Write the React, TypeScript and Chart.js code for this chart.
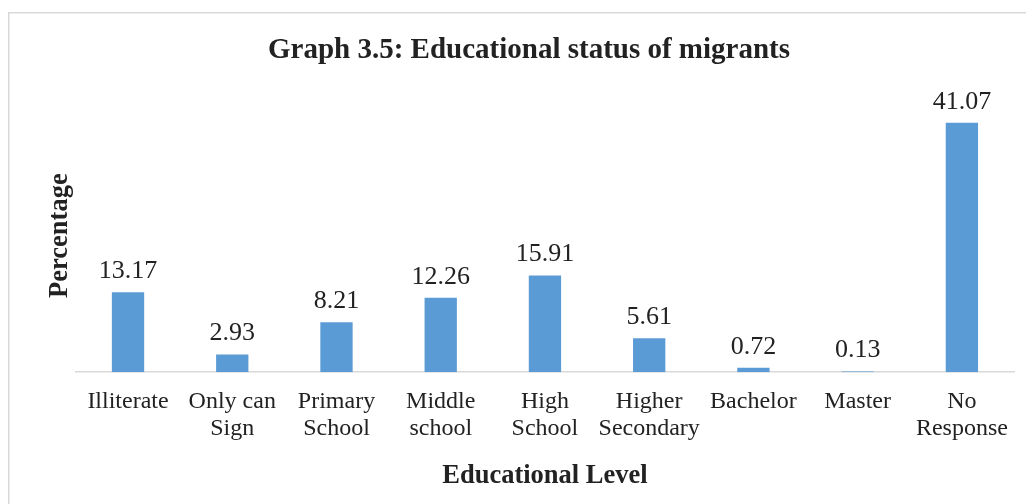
import React, { useEffect, useRef } from "react";
import { Chart, registerables } from "chart.js";

Chart.register(...registerables);

const categories: string[][] = [
  ["Illiterate"],
  ["Only can", "Sign"],
  ["Primary", "School"],
  ["Middle", "school"],
  ["High", "School"],
  ["Higher", "Secondary"],
  ["Bachelor"],
  ["Master"],
  ["No", "Response"],
];
const values: number[] = [13.17, 2.93, 8.21, 12.26, 15.91, 5.61, 0.72, 0.13, 41.07];
const valueLabels: string[] = ["13.17", "2.93", "8.21", "12.26", "15.91", "5.61", "0.72", "0.13", "41.07"];

const FONT = "'Liberation Serif', 'Times New Roman', serif";
const TEXT = "#222222";

const extrasPlugin = {
  id: "extras",
  afterDatasetsDraw(chart: any) {
    const ctx = chart.ctx;
    const meta = chart.getDatasetMeta(0);
    ctx.save();
    ctx.fillStyle = TEXT;
    ctx.font = `26px ${FONT}`;
    ctx.textAlign = "center";
    ctx.textBaseline = "bottom";
    meta.data.forEach((bar: any, i: number) => {
      ctx.fillText(valueLabels[i], bar.x, bar.y - 8);
    });
    ctx.restore();
  },
  beforeDraw(chart: any) {
    const ctx = chart.ctx;
    ctx.save();
    ctx.strokeStyle = "#d9d9d9";
    ctx.lineWidth = 1.5;
    ctx.beginPath();
    ctx.moveTo(0.75, chart.height);
    ctx.lineTo(0.75, 4.75);
    ctx.lineTo(chart.width, 4.75);
    ctx.stroke();
    ctx.restore();
  },
};

export default function App() {
  const ref = useRef<HTMLCanvasElement | null>(null);
  useEffect(() => {
    if (!ref.current) return;
    const chart = new Chart(ref.current, {
      type: "bar",
      data: {
        labels: categories,
        datasets: [
          {
            data: values,
            backgroundColor: "#5B9BD5",
            borderWidth: 0,
            barPercentage: 0.31,
            categoryPercentage: 1,
          },
        ],
      },
      options: {
        animation: false,
        responsive: false,
        maintainAspectRatio: false,
        layout: { padding: { left: 36, right: 20, top: 0, bottom: 12 } },
        plugins: {
          legend: { display: false },
          tooltip: { enabled: false },
          title: {
            display: true,
            text: "Graph 3.5: Educational status of migrants",
            color: TEXT,
            font: { family: FONT, size: 29, weight: "bold" },
            padding: { top: 25.6, bottom: 30.6 },
          },
        },
        scales: {
          x: {
            grid: { display: false, drawTicks: false },
            border: { display: true, color: "#d9d9d9", width: 1.5 },
            ticks: {
              color: TEXT,
              font: { family: FONT, size: 24, lineHeight: 1.125 },
              padding: 16,
              maxRotation: 0,
              autoSkip: false,
            },
            title: {
              display: true,
              text: "Educational Level",
              color: TEXT,
              font: { family: FONT, size: 26.5, weight: "bold" },
              padding: { top: 2, bottom: 0 },
            },
          },
          y: {
            min: 0,
            max: 45,
            grid: { display: false, drawTicks: false },
            border: { display: false },
            ticks: { display: false },
            title: {
              display: true,
              text: "Percentage",
              color: TEXT,
              font: { family: FONT, size: 26.5, weight: "bold" },
              padding: { top: 0, bottom: 0.1 },
            },
          },
        },
      },
      plugins: [extrasPlugin],
    });
    return () => chart.destroy();
  }, []);
  return (
    <canvas ref={ref} width={1026} height={496} style={{ display: "block", width: 1026, height: 496 }} />
  );
}
